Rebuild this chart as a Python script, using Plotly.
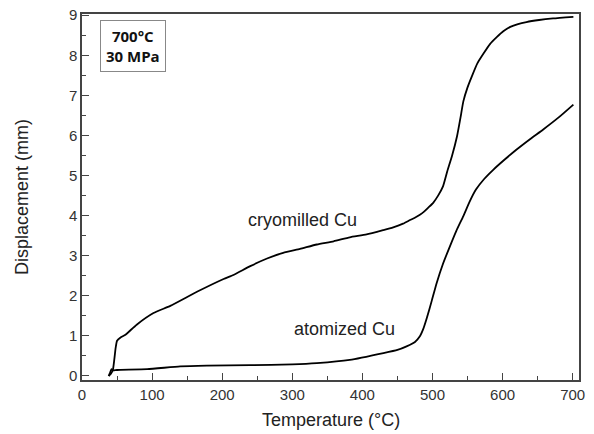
import plotly.graph_objects as go

# Cryomilled Cu: temperature (°C) vs displacement (mm)
cryo_temp = [38, 41, 44, 46, 48, 50, 55, 62, 78, 102, 126, 164, 202, 216, 240, 264,
             287, 311, 335, 359, 382, 406, 430, 444, 458, 468, 476, 482, 488, 494, 501, 508, 515,
             521, 528, 535, 540, 544, 550, 556, 564, 573, 582, 592, 601, 611, 622, 634, 652, 672, 701]
cryo_disp = [0.0, 0.05, 0.15, 0.4, 0.7, 0.88, 0.96, 1.03, 1.28, 1.57, 1.75, 2.1, 2.42, 2.52, 2.74, 2.93,
             3.07, 3.17, 3.28, 3.36, 3.46, 3.53, 3.64, 3.71, 3.8, 3.89, 3.96, 4.02, 4.1, 4.2, 4.32, 4.5, 4.73,
             5.1, 5.5, 5.98, 6.45, 6.85, 7.2, 7.47, 7.8, 8.05, 8.28, 8.46, 8.6, 8.71, 8.78, 8.83, 8.88, 8.92, 8.96]

# Atomized Cu
atom_temp = [38, 40, 42, 44, 50, 93, 140, 178, 240, 300, 335, 382, 430, 450, 463, 475,
             482, 487, 492, 499, 506, 515, 525, 534, 544, 553, 562, 574, 587, 603, 620, 640, 658, 680, 701]
atom_disp = [0.0, 0.08, 0.17, 0.14, 0.15, 0.17, 0.24, 0.26, 0.27, 0.29, 0.32, 0.4, 0.57, 0.65, 0.74, 0.85,
             0.99, 1.18, 1.45, 1.88, 2.32, 2.8, 3.24, 3.62, 3.99, 4.35, 4.65, 4.92, 5.15, 5.4, 5.65, 5.92, 6.15, 6.45, 6.77]

x_ticks = [0, 100, 200, 300, 400, 500, 600, 700]
y_ticks = [0, 1, 2, 3, 4, 5, 6, 7, 8, 9]

fig = go.Figure()
for t, d in [(cryo_temp, cryo_disp), (atom_temp, atom_disp)]:
    fig.add_trace(go.Scatter(x=t, y=d, mode="lines",
                             line=dict(color="black", width=1.8, shape="spline", smoothing=0.5),
                             showlegend=False, hoverinfo="skip"))

font_main = "Liberation Sans"

axis_common = dict(
    showline=True, linecolor="#444", linewidth=1.5, mirror=True,
    ticks="inside", ticklen=7, tickwidth=1.3, tickcolor="#444",
    showgrid=False, zeroline=False, automargin=False,
    tickfont=dict(family=font_main, size=15, color="#333"),
)

fig.update_xaxes(
    range=[0, 709], tickvals=x_ticks,
    minor=dict(dtick=50, ticks="inside", ticklen=4, tickcolor="#444", tickwidth=1.2),
    **axis_common,
)
fig.update_yaxes(
    range=[-0.1, 9.03], tickvals=y_ticks,
    minor=dict(dtick=0.5, ticks="inside", ticklen=4, tickcolor="#444", tickwidth=1.2),
    title=dict(text="Displacement (mm)", font=dict(family=font_main, size=18, color="#222"), standoff=36),
    **axis_common,
)

# x-axis title placed below the tick labels
fig.add_annotation(x=0.5, y=-0.109, xref="paper", yref="paper", yanchor="middle",
                   text="Temperature (°C)", showarrow=False,
                   font=dict(family=font_main, size=18, color="#222"))

fig.add_annotation(x=314, y=3.9, text="cryomilled Cu", showarrow=False,
                   font=dict(family=font_main, size=18, color="#222"))
fig.add_annotation(x=374, y=1.16, text="atomized Cu", showarrow=False,
                   font=dict(family=font_main, size=18, color="#222"))
fig.add_annotation(x=72.5, y=8.24, text="<b>700°C<br>30 MPa</b>", showarrow=False,
                   align="center", bordercolor="#888", borderwidth=1, borderpad=5,
                   bgcolor="white",
                   font=dict(family="Open Sans", size=15, color="#111"))

fig.update_layout(
    width=594, height=434,
    margin=dict(l=82, r=15, t=14, b=54),
    paper_bgcolor="white", plot_bgcolor="white",
)

fig.write_html("out.html")
